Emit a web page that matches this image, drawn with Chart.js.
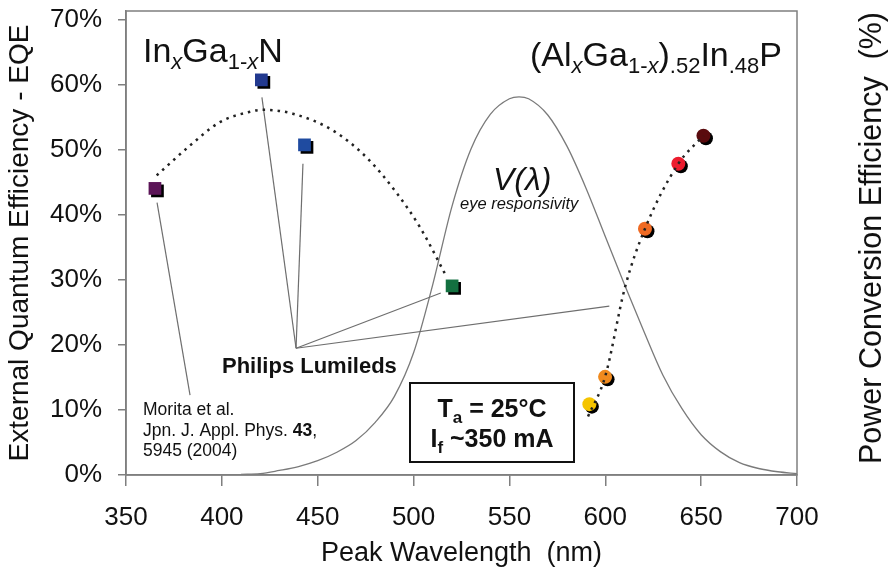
<!DOCTYPE html>
<html>
<head>
<meta charset="utf-8">
<title>EQE vs peak wavelength</title>
<script src="https://cdn.jsdelivr.net/npm/chart.js@4.4.1/dist/chart.umd.min.js"></script>
<style>
  body { margin: 0; background: #fff; }
  canvas { display: block; }
</style>
</head>
<body>
<canvas id="eqeChart" width="893" height="572"></canvas>
<script>
// ---- donnees ----

// courbe V(lambda) (sensibilite de l'oeil, mise a l'echelle en %)
const vWavelength = [410, 420, 430, 440, 450, 460, 470, 480, 490, 500, 510, 520, 530, 540, 550, 555, 560, 570, 580, 590, 600, 610, 620, 630, 640, 650, 660, 670, 680, 690, 700];
const vValue = [0.1, 0.2, 0.7, 1.3, 2.2, 3.5, 5.3, 8.1, 12.1, 18.8, 29.3, 41.3, 50.2, 55.5, 57.9, 58.2, 57.9, 55.4, 50.6, 44.1, 36.7, 29.3, 22.2, 15.4, 10.2, 6.2, 3.6, 1.9, 1.0, 0.5, 0.2];

// LED InGaN (carres)
const inganWavelength = [365.1, 420.6, 443.1, 520.1];
const inganEqe = [44.1, 60.8, 50.8, 29.1];
const inganColors = ["#5b1457", "#22398f", "#1f4ba0", "#137040"];

// courbe pointillee InGaN
const inganFitX = [366, 383.4, 399, 414.7, 421.5, 437, 458, 475.7, 491.4, 503.4, 517.4];
const inganFitY = [46.1, 50.7, 54.3, 55.9, 56.2, 55.6, 53.0, 48.8, 43.3, 38.1, 30.4];

// LED AlGaInP (ronds)
const alinpWavelength = [591.7, 599.9, 620.7, 638.1, 651.2];
const alinpEqe = [10.9, 15.1, 37.9, 47.9, 52.2];
const alinpColors = ["#f5c400", "#f08a1e", "#ef6a23", "#ec1c2e", "#5a0b0e"];

// courbe pointillee AlGaInP
const alinpFitX = [591, 599.9, 610.3, 620.7, 638.1, 651.2];
const alinpFitY = [9.0, 15.1, 28.9, 37.9, 47.9, 52.2];

// traits de renvoi (x1, y1, x2, y2)
const lumiledsLines = [
  [420.9, 58.1, 438.7, 19.5],
  [442.3, 47.9, 438.7, 19.5],
  [514.2, 28.0, 438.7, 19.5],
  [602.1, 26.0, 438.7, 19.5]
];
const moritaLine = [366.2, 41.9, 383.4, 12.3];

// axes
const xTicks = [350, 400, 450, 500, 550, 600, 650, 700];
const yTicks = [0, 10, 20, 30, 40, 50, 60, 70];

const FONT = "'Liberation Sans', Arial, Helvetica, sans-serif";

function toPoints(xs, ys) {
  return xs.map((x, i) => ({ x: x, y: ys[i] }));
}

// datasets des traits de renvoi
const calloutSets = lumiledsLines.concat([moritaLine]).map(l => ({
  data: [{ x: l[0], y: l[1] }, { x: l[2], y: l[3] }],
  showLine: true,
  borderColor: "#6e6e6e",
  borderWidth: 1.2,
  pointRadius: 0,
  order: 4
}));

// texte avec indices : [texte, taille, style, decalage vertical]
function drawRich(ctx, parts, x, y, align) {
  let width = 0;
  parts.forEach(p => {
    ctx.font = (p[2] || "") + " " + p[1] + "px " + FONT;
    width += ctx.measureText(p[0]).width;
  });
  let cx = x;
  if (align === "right") cx = x - width;
  if (align === "center") cx = x - width / 2;
  parts.forEach(p => {
    ctx.font = (p[2] || "") + " " + p[1] + "px " + FONT;
    ctx.fillText(p[0], cx, y + (p[3] || 0));
    cx += ctx.measureText(p[0]).width;
  });
}

const decorPlugin = {
  id: "decor",
  beforeDatasetDraw(chart, args) {
    const ds = chart.data.datasets[args.index];
    if (ds.shadow) {
      const ctx = chart.ctx;
      ctx.save();
      ctx.shadowColor = "#000";
      ctx.shadowOffsetX = 2.5;
      ctx.shadowOffsetY = 2.5;
      ctx.shadowBlur = 0;
    }
  },
  afterDatasetDraw(chart, args) {
    const ds = chart.data.datasets[args.index];
    if (ds.shadow) chart.ctx.restore();
  },
  afterDraw(chart) {
    const ctx = chart.ctx;
    const a = chart.chartArea;
    ctx.save();

    // cadre
    ctx.strokeStyle = "#7f7f7f";
    ctx.lineWidth = 1.5;
    ctx.strokeRect(a.left, a.top, a.right - a.left, a.bottom - a.top);

    ctx.fillStyle = "#111";
    ctx.textBaseline = "alphabetic";
    ctx.textAlign = "left";

    drawRich(ctx, [["In", 34], ["x", 22, "italic", 7], ["Ga", 34], ["1-", 22, "", 7], ["x", 22, "italic", 7], ["N", 34]], 143, 62, "left");
    drawRich(ctx, [["(Al", 34], ["x", 22, "italic", 7], ["Ga", 34], ["1-", 22, "", 7], ["x", 22, "italic", 7], [")", 34], [".52", 22, "", 7], ["In", 34], [".48", 22, "", 7], ["P", 34]], 782, 66, "right");

    // V(lambda)
    drawRich(ctx, [["V(", 32, "italic"], ["\u03bb", 32, "italic"], [")", 32, "italic"]], 493, 190, "left");
    ctx.font = "italic 16.5px " + FONT;
    ctx.fillText("eye responsivity", 460, 209);

    ctx.font = "bold 22px " + FONT;
    ctx.fillText("Philips Lumileds", 222, 373);

    // reference Morita
    ctx.font = "17.5px " + FONT;
    ctx.fillText("Morita et al.", 143, 415);
    drawRich(ctx, [["Jpn. J. Appl. Phys. ", 17.5], ["43", 17.5, "bold"], [",", 17.5]], 143, 436, "left");
    ctx.font = "17.5px " + FONT;
    ctx.fillText("5945 (2004)", 143, 456);

    // encadre conditions
    ctx.strokeStyle = "#111";
    ctx.lineWidth = 2;
    ctx.strokeRect(410, 383, 164, 79);
    drawRich(ctx, [["T", 25, "bold"], ["a", 17, "bold", 6], [" = 25\u00b0C", 25, "bold"]], 492, 417, "center");
    drawRich(ctx, [["I", 25, "bold"], ["f", 17, "bold", 6], [" ~350 mA", 25, "bold"]], 492, 447, "center");

    // titre de droite
    ctx.translate(873, 238);
    ctx.rotate(-Math.PI / 2);
    ctx.textAlign = "center";
    ctx.textBaseline = "middle";
    ctx.font = "30.5px " + FONT;
    ctx.fillText("Power Conversion Efficiency  (%)", 0, 0);
    ctx.restore();
  }
};

const ctx = document.getElementById("eqeChart");
const eqeChart = new Chart(ctx, {
  type: "scatter",
  data: {
    datasets: [
      {
        data: toPoints(vWavelength, vValue),
        showLine: true,
        borderColor: "#7a7a7a",
        borderWidth: 1.3,
        pointRadius: 0,
        cubicInterpolationMode: "monotone",
        order: 5
      },
      ...calloutSets,
      {
        data: toPoints(inganWavelength, inganEqe),
        pointStyle: "rect",
        pointRadius: 9,
        pointBorderWidth: 0,
        backgroundColor: inganColors,
        shadow: true,
        order: 2
      },
      {
        data: toPoints(alinpWavelength, alinpEqe),
        pointStyle: "circle",
        pointRadius: 7,
        pointBorderWidth: 0,
        backgroundColor: alinpColors,
        shadow: true,
        order: 2
      },
      {
        data: toPoints(inganFitX, inganFitY),
        showLine: true,
        borderColor: "#222",
        borderWidth: 2.5,
        borderDash: [2.5, 5],
        pointRadius: 0,
        cubicInterpolationMode: "monotone",
        order: 1
      },
      {
        data: toPoints(alinpFitX, alinpFitY),
        showLine: true,
        borderColor: "#222",
        borderWidth: 2.5,
        borderDash: [2.5, 5],
        pointRadius: 0,
        cubicInterpolationMode: "monotone",
        order: 1
      }
    ]
  },
  options: {
    responsive: false,
    animation: false,
    layout: { padding: { left: 0, right: 96, top: 11, bottom: 0 } },
    plugins: { legend: { display: false }, tooltip: { enabled: false } },
    scales: {
      x: {
        type: "linear",
        min: xTicks[0],
        max: xTicks[xTicks.length - 1],
        afterBuildTicks: scale => { scale.ticks = xTicks.map(v => ({ value: v })); },
        afterFit: scale => {
          scale.height = 97;
          scale.paddingLeft = 0;
          scale.paddingRight = 0;
        },
        grid: { drawOnChartArea: false, drawTicks: true, tickLength: 11, color: "#7f7f7f", lineWidth: 1.5 },
        border: { display: true, color: "#7f7f7f", width: 1.5 },
        ticks: { color: "#111", padding: 16, font: { family: FONT, size: 26 } },
        title: {
          display: true,
          text: "Peak Wavelength  (nm)",
          color: "#111",
          font: { family: FONT, size: 27 },
          padding: { top: 0, bottom: 2 }
        }
      },
      y: {
        type: "linear",
        min: 0,
        max: 71.4,
        afterBuildTicks: scale => { scale.ticks = yTicks.map(v => ({ value: v })); },
        afterFit: scale => {
          scale.width = 126;
          scale.paddingTop = 0;
          scale.paddingBottom = 0;
        },
        grid: { drawOnChartArea: false, drawTicks: true, tickLength: 8, color: "#7f7f7f", lineWidth: 1.5 },
        border: { display: true, color: "#7f7f7f", width: 1.5 },
        ticks: {
          color: "#111",
          padding: 16,
          font: { family: FONT, size: 26 },
          callback: v => v + "%"
        },
        title: {
          display: true,
          text: "External Quantum Efficiency - EQE",
          color: "#111",
          font: { family: FONT, size: 28 },
          padding: { top: 3, bottom: 0 }
        }
      }
    }
  },
  plugins: [decorPlugin]
});
</script>
</body>
</html>
